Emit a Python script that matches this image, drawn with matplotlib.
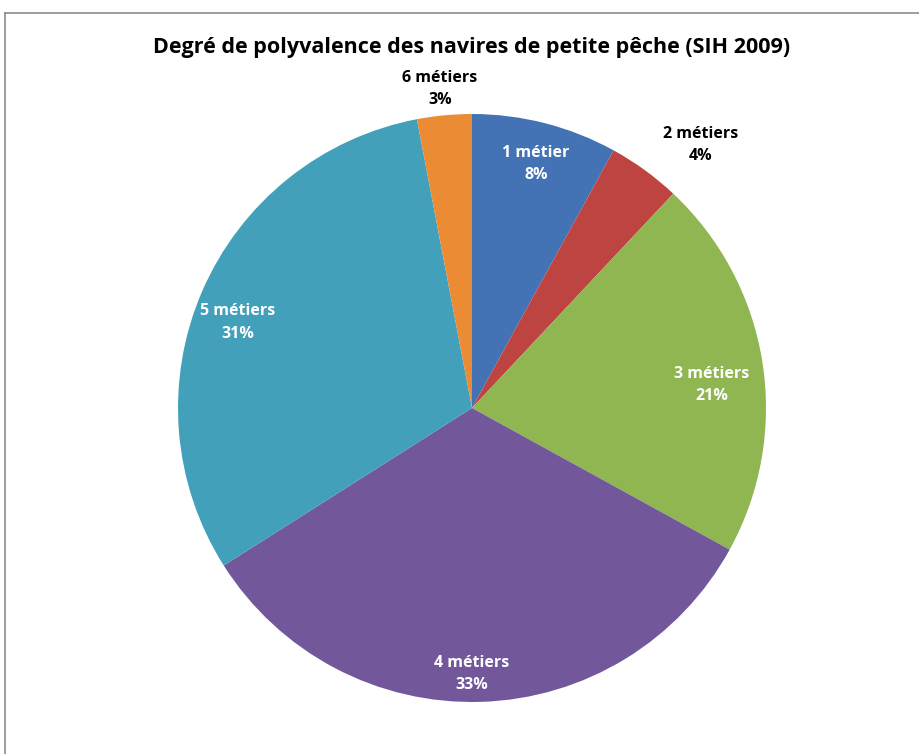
import matplotlib
matplotlib.use("Agg")
import matplotlib.pyplot as plt
import numpy as np

plt.rcParams['font.family'] = ['Open Sans', 'DejaVu Sans']

title = "Degré de polyvalence des navires de petite pêche (SIH 2009)"
categories = ["1 métier", "2 métiers", "3 métiers", "4 métiers", "5 métiers", "6 métiers"]
shares = [8, 4, 21, 33, 31, 3]
colors = ["#4473B5", "#BE4441", "#8FB650", "#72589A", "#42A0BA", "#EB8C35"]
label_colors = ["white", "black", "white", "white", "white", "black"]
# label anchor points, in pie-radius units
label_xy = [(0.218, 0.83), (0.776, 0.895), (0.816, 0.078),
            (0.0, -0.905), (-0.796, 0.29), (-0.109, 1.085)]

W, H = 920, 754
fig = plt.figure(figsize=(W / 100, H / 100), dpi=100)

cx, cy, R = 472, 408, 294
ax = fig.add_axes([(cx - R) / W, (H - cy - R) / H, 2 * R / W, 2 * R / H])
ax.pie(shares, colors=colors, startangle=90, counterclock=False, radius=1,
       wedgeprops=dict(linewidth=0))
ax.set_xlim(-1, 1)
ax.set_ylim(-1, 1)
ax.set_aspect('equal')
ax.axis('off')

for name, v, col, (x, y) in zip(categories, shares, label_colors, label_xy):
    ax.text(x, y, f"{name}\n{v}%", ha='center', va='center', color=col,
            fontsize=11.5, fontweight='bold', linespacing=1.55, clip_on=False)

fig.text(472 / W, 1 - 47 / H, title, ha='center', va='center',
         fontsize=15.5, fontweight='bold')

# frame lines along the top and left edges
fig.add_artist(plt.Line2D([5 / W, 1], [1 - 12.5 / H, 1 - 12.5 / H],
                          transform=fig.transFigure, color='#8c8c8c', lw=1.2))
fig.add_artist(plt.Line2D([5.5 / W, 5.5 / W], [0, 1 - 12.5 / H],
                          transform=fig.transFigure, color='#8c8c8c', lw=1.2))

fig.savefig("out.png", dpi=100)
